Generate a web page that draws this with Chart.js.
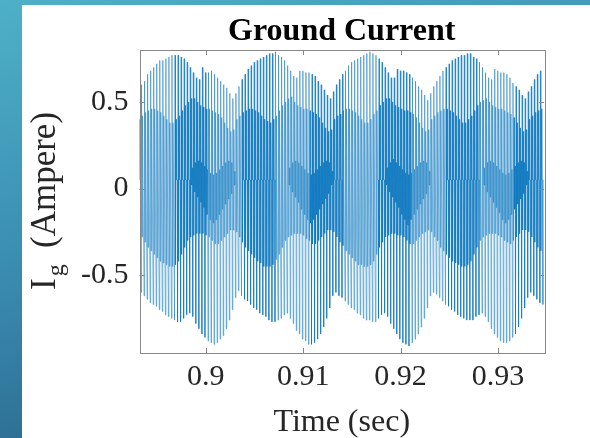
<!DOCTYPE html>
<html>
<head>
<meta charset="utf-8">
<script src="https://cdn.jsdelivr.net/npm/chart.js@4.4.0/dist/chart.umd.min.js"></script>
<style>
  html, body { margin: 0; padding: 0; }
  body {
    width: 590px; height: 438px; overflow: hidden; position: relative;
    background: linear-gradient(165deg, #4eb0c8 0%, #3a8db0 45%, #24587f 100%);
  }
  #panel { position: absolute; left: 22px; top: 5px; right: 0; bottom: 0; background: #fff; }
  #plot { position: absolute; left: 0; top: 0; }
</style>
</head>
<body>
<div id="panel"></div>
<canvas id="plot" width="590" height="438"></canvas>
<script>
// ground current samples, one row of values per 0.01 s stretch (32 carrier cycles)
const START_TIME = 0.8931;
const CYCLE_TIME = 0.0003125;

// upper peak of every cycle
const cycleTop = [
  0.57,0.60,0.62,0.66,0.68,0.70,0.72,0.74,0.74,0.75,0.76,0.77,0.77,0.77,0.76,0.75,0.73,0.70,0.67,0.64,0.63,0.70,0.67,0.67,0.68,0.66,0.64,0.62,0.60,0.58,0.55,0.52,
  0.55,0.59,0.63,0.66,0.69,0.71,0.73,0.74,0.75,0.76,0.77,0.78,0.78,0.79,0.77,0.76,0.74,0.71,0.68,0.65,0.64,0.68,0.68,0.67,0.67,0.66,0.65,0.62,0.60,0.57,0.54,0.52,
  0.56,0.60,0.63,0.66,0.68,0.71,0.73,0.74,0.75,0.76,0.77,0.78,0.79,0.78,0.77,0.75,0.73,0.70,0.67,0.64,0.64,0.69,0.68,0.68,0.67,0.66,0.64,0.62,0.59,0.57,0.54,0.51,
  0.55,0.59,0.62,0.65,0.68,0.70,0.72,0.74,0.75,0.76,0.77,0.77,0.78,0.78,0.76,0.75,0.73,0.70,0.67,0.64,0.63,0.69,0.68,0.67,0.67,0.66,0.64,0.61,0.59,0.57,0.54,0.52,
  0.56,0.59,0.63,0.66,0.68
];

// lower peak of every cycle
const cycleBottom = [
  -0.60,-0.62,-0.64,-0.66,-0.67,-0.68,-0.70,-0.71,-0.73,-0.74,-0.75,-0.76,-0.77,-0.77,-0.75,-0.73,-0.72,-0.74,-0.78,-0.81,-0.84,-0.86,-0.88,-0.89,-0.90,-0.89,-0.87,-0.85,-0.81,-0.76,-0.70,-0.63,
  -0.59,-0.62,-0.64,-0.65,-0.67,-0.69,-0.70,-0.72,-0.73,-0.74,-0.76,-0.77,-0.77,-0.76,-0.75,-0.73,-0.72,-0.75,-0.78,-0.82,-0.84,-0.87,-0.88,-0.90,-0.90,-0.89,-0.87,-0.84,-0.80,-0.75,-0.69,-0.62,
  -0.60,-0.62,-0.63,-0.65,-0.67,-0.69,-0.70,-0.72,-0.73,-0.75,-0.76,-0.76,-0.77,-0.77,-0.75,-0.73,-0.72,-0.74,-0.78,-0.81,-0.84,-0.87,-0.89,-0.90,-0.91,-0.89,-0.87,-0.84,-0.80,-0.75,-0.69,-0.62,
  -0.60,-0.61,-0.63,-0.65,-0.67,-0.68,-0.70,-0.71,-0.73,-0.74,-0.75,-0.76,-0.76,-0.76,-0.74,-0.73,-0.72,-0.74,-0.77,-0.81,-0.84,-0.86,-0.88,-0.89,-0.89,-0.88,-0.86,-0.84,-0.80,-0.75,-0.69,-0.63,
  -0.60,-0.62,-0.64,-0.66,-0.67
];

// inner swing of each cycle (harmonic ripple)
const rippleLow = [
  -0.25,-0.28,-0.31,-0.34,-0.36,-0.38,-0.40,-0.42,-0.43,-0.44,-0.45,-0.45,-0.44,-0.42,-0.38,-0.34,-0.30,-0.28,-0.27,-0.26,-0.26,-0.26,-0.27,-0.28,-0.30,-0.32,-0.32,-0.30,-0.28,-0.26,-0.24,-0.24,
  -0.25,-0.28,-0.31,-0.34,-0.36,-0.38,-0.40,-0.42,-0.43,-0.45,-0.45,-0.45,-0.44,-0.41,-0.38,-0.34,-0.30,-0.28,-0.27,-0.26,-0.26,-0.26,-0.27,-0.29,-0.30,-0.32,-0.32,-0.30,-0.28,-0.26,-0.24,-0.24,
  -0.25,-0.28,-0.31,-0.33,-0.36,-0.38,-0.40,-0.42,-0.44,-0.44,-0.45,-0.45,-0.44,-0.42,-0.38,-0.34,-0.31,-0.28,-0.27,-0.26,-0.26,-0.27,-0.27,-0.28,-0.30,-0.32,-0.32,-0.30,-0.28,-0.26,-0.25,-0.24,
  -0.25,-0.28,-0.30,-0.34,-0.36,-0.38,-0.40,-0.42,-0.43,-0.44,-0.45,-0.45,-0.44,-0.42,-0.38,-0.34,-0.30,-0.28,-0.27,-0.26,-0.26,-0.26,-0.27,-0.28,-0.30,-0.31,-0.32,-0.30,-0.28,-0.26,-0.24,-0.24,
  -0.25,-0.28,-0.31,-0.34,-0.36
];
const rippleHigh = [
  0.40,0.42,0.44,0.45,0.46,0.46,0.45,0.44,0.42,0.40,0.38,0.38,0.40,0.42,0.45,0.48,0.50,0.52,0.52,0.50,0.48,0.47,0.46,0.46,0.45,0.44,0.43,0.41,0.38,0.35,0.33,0.34,
  0.40,0.42,0.44,0.45,0.46,0.46,0.45,0.44,0.42,0.40,0.39,0.38,0.40,0.42,0.45,0.48,0.50,0.52,0.53,0.50,0.48,0.47,0.46,0.46,0.45,0.44,0.43,0.41,0.38,0.35,0.33,0.34,
  0.40,0.42,0.43,0.45,0.46,0.46,0.45,0.44,0.42,0.40,0.38,0.38,0.40,0.43,0.45,0.48,0.50,0.52,0.52,0.50,0.48,0.47,0.46,0.45,0.45,0.44,0.43,0.41,0.38,0.35,0.33,0.34,
  0.40,0.42,0.44,0.45,0.46,0.46,0.45,0.44,0.42,0.40,0.38,0.38,0.40,0.42,0.45,0.48,0.50,0.51,0.52,0.50,0.48,0.47,0.46,0.46,0.45,0.44,0.43,0.41,0.38,0.35,0.33,0.34,
  0.40,0.42,0.44,0.45,0.46
];
const coreLow = [
  0.05,0.05,0.05,0.05,0.05,0.05,0.05,0.05,0.05,0.05,0.05,0.05,0.05,0.05,0.05,0.05,0.05,0.02,-0.02,-0.05,-0.08,-0.11,-0.15,-0.18,-0.20,-0.18,-0.15,-0.12,-0.09,-0.06,-0.03,0.02,
  0.05,0.05,0.05,0.05,0.05,0.05,0.05,0.05,0.05,0.05,0.05,0.05,0.05,0.05,0.05,0.05,0.05,0.02,-0.02,-0.05,-0.08,-0.12,-0.15,-0.18,-0.20,-0.18,-0.15,-0.12,-0.09,-0.06,-0.03,0.02,
  0.05,0.05,0.05,0.05,0.05,0.05,0.05,0.05,0.05,0.05,0.05,0.05,0.05,0.05,0.05,0.05,0.05,0.02,-0.02,-0.05,-0.08,-0.11,-0.15,-0.18,-0.21,-0.18,-0.15,-0.12,-0.09,-0.06,-0.03,0.02,
  0.05,0.05,0.05,0.05,0.05,0.05,0.05,0.05,0.05,0.05,0.05,0.05,0.05,0.05,0.05,0.05,0.05,0.02,-0.02,-0.05,-0.08,-0.11,-0.14,-0.18,-0.20,-0.18,-0.15,-0.12,-0.09,-0.06,-0.03,0.02,
  0.05,0.05,0.05,0.05,0.05
];
const coreHigh = [
  0.05,0.05,0.05,0.05,0.05,0.05,0.05,0.05,0.05,0.05,0.05,0.05,0.05,0.05,0.05,0.05,0.05,0.12,0.15,0.16,0.15,0.13,0.11,0.09,0.08,0.09,0.11,0.13,0.15,0.16,0.15,0.10,
  0.05,0.05,0.05,0.05,0.05,0.05,0.05,0.05,0.05,0.05,0.05,0.05,0.05,0.05,0.05,0.05,0.05,0.12,0.15,0.16,0.15,0.13,0.11,0.09,0.08,0.09,0.11,0.13,0.15,0.16,0.15,0.10,
  0.05,0.05,0.05,0.05,0.05,0.05,0.05,0.05,0.05,0.05,0.05,0.05,0.05,0.05,0.05,0.05,0.05,0.12,0.15,0.17,0.15,0.13,0.11,0.09,0.08,0.09,0.11,0.13,0.15,0.16,0.15,0.10,
  0.05,0.05,0.05,0.05,0.05,0.05,0.05,0.05,0.05,0.05,0.05,0.05,0.05,0.05,0.05,0.05,0.05,0.12,0.15,0.16,0.15,0.13,0.11,0.09,0.08,0.09,0.11,0.13,0.15,0.16,0.15,0.10,
  0.05,0.05,0.05,0.05,0.05
];

const xTicks = [0.9, 0.91, 0.92, 0.93];
const xTickLabels = ['0.9', '0.91', '0.92', '0.93'];
const yTicks = [-0.5, 0, 0.5];
const yTickLabels = ['-0.5', '0', '0.5'];

const X_MIN = 0.893205, X_MAX = 0.93472;
const Y_MIN = -0.95, Y_MAX = 0.8;

// six samples per cycle: top, ripple low/high, core low/high, bottom
const SAMPLE_STEP = CYCLE_TIME / 6;
const points = [];
cycleTop.forEach((top, k) => {
  const vals = [top, rippleLow[k], rippleHigh[k], coreLow[k], coreHigh[k], cycleBottom[k]];
  vals.forEach((v, j) => {
    points.push({ x: START_TIME + (k * 6 + j) * SAMPLE_STEP, y: v });
  });
});

const SERIF = '"Liberation Serif", "Times New Roman", serif';
const AXIS_GRAY = '#888888';
const TEXT_GRAY = '#262626';

// box around the axes with inward tick marks, title and axis labels
const matlabAxes = {
  id: 'matlabAxes',
  afterDatasetsDraw(chart) {
    const { ctx, chartArea: a, scales } = chart;
    ctx.save();
    ctx.strokeStyle = AXIS_GRAY;
    ctx.lineWidth = 1;
    ctx.strokeRect(Math.round(a.left) + 0.5, Math.round(a.top) + 0.5,
      Math.round(a.right - a.left), Math.round(a.bottom - a.top));
    ctx.beginPath();
    xTicks.forEach(v => {
      const px = Math.round(scales.x.getPixelForValue(v)) + 0.5;
      ctx.moveTo(px, a.bottom); ctx.lineTo(px, a.bottom - 5);
      ctx.moveTo(px, a.top); ctx.lineTo(px, a.top + 5);
    });
    yTicks.forEach(v => {
      const py = Math.round(scales.y.getPixelForValue(v)) + 0.5;
      ctx.moveTo(a.left, py); ctx.lineTo(a.left + 5, py);
      ctx.moveTo(a.right, py); ctx.lineTo(a.right - 5, py);
    });
    ctx.stroke();
    ctx.restore();
  },
  afterDraw(chart) {
    const { ctx, chartArea: a } = chart;
    ctx.save();
    ctx.textBaseline = 'alphabetic';
    ctx.textAlign = 'center';
    ctx.fillStyle = '#000';
    ctx.font = 'bold 32px ' + SERIF;
    ctx.fillText('Ground Current', (a.left + a.right) / 2, 40);

    ctx.fillStyle = TEXT_GRAY;
    ctx.font = '32px ' + SERIF;
    ctx.fillText('Time (sec)', (a.left + a.right) / 2, 431);

    // I_g (Ampere), rotated
    ctx.translate(55, 290);
    ctx.rotate(-Math.PI / 2);
    ctx.textAlign = 'left';
    ctx.font = '35px ' + SERIF;
    ctx.fillText('I', 0, 0);
    const w = ctx.measureText('I').width;
    ctx.font = '24px ' + SERIF;
    ctx.fillText('g', w + 2, 8);
    ctx.font = '35px ' + SERIF;
    ctx.fillText('(Ampere)', 42, 0);
    ctx.restore();
  }
};

new Chart(document.getElementById('plot'), {
  type: 'line',
  data: {
    datasets: [{
      data: points,
      borderColor: '#0072bd',
      borderWidth: 0.5,
      pointRadius: 0,
      tension: 0
    }]
  },
  options: {
    responsive: false,
    animation: false,
    parsing: false,
    normalized: true,
    layout: { padding: { left: 0, right: 46, top: 50, bottom: 0 } },
    plugins: {
      legend: { display: false },
      tooltip: { enabled: false },
      title: { display: false }
    },
    scales: {
      x: {
        type: 'linear',
        min: X_MIN,
        max: X_MAX,
        afterBuildTicks: s => { s.ticks = xTicks.map(v => ({ value: v })); },
        afterFit: s => { s.height = 85; },
        grid: { display: false, drawTicks: false },
        border: { display: false },
        ticks: {
          autoSkip: false,
          maxRotation: 0,
          padding: 6,
          color: TEXT_GRAY,
          font: { family: SERIF, size: 30 },
          callback: (v, i) => xTickLabels[i]
        }
      },
      y: {
        type: 'linear',
        min: Y_MIN,
        max: Y_MAX,
        afterBuildTicks: s => { s.ticks = yTicks.map(v => ({ value: v })); },
        afterFit: s => { s.width = 139.5; },
        grid: { display: false, drawTicks: false },
        border: { display: false },
        ticks: {
          padding: 11,
          color: TEXT_GRAY,
          font: { family: SERIF, size: 30 },
          callback: (v, i) => yTickLabels[i]
        }
      }
    }
  },
  plugins: [matlabAxes]
});
</script>
</body>
</html>
